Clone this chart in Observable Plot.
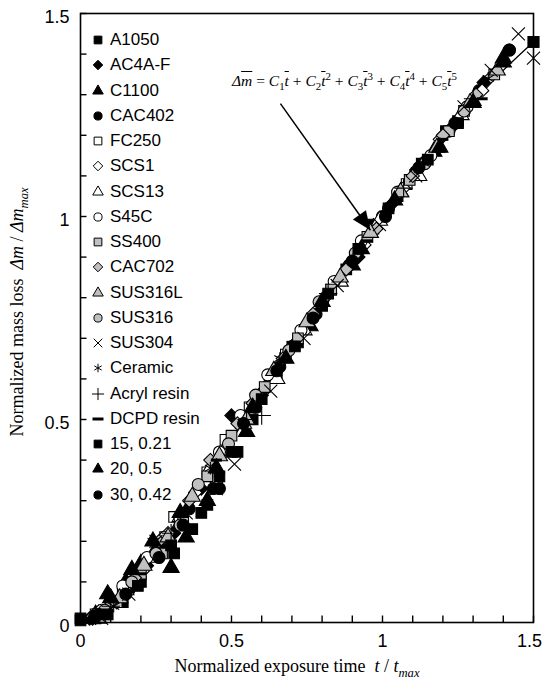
<!DOCTYPE html>
<html><head><meta charset="utf-8">
<script src="https://cdn.jsdelivr.net/npm/d3@7"></script>
<script src="https://cdn.jsdelivr.net/npm/@observablehq/plot@0.6"></script>
<style>
body{margin:0;background:#fff;}
#wrap{position:relative;width:542px;height:683px;overflow:hidden;}
.ov{position:absolute;white-space:nowrap;}
.leg{position:absolute;left:90px;top:0;width:150px;font-family:"Liberation Sans",Arial,sans-serif;font-size:17px;color:#000;}
.row{position:absolute;left:0;height:20px;display:flex;align-items:center;white-space:nowrap;}
.row svg{width:16px;height:16px;margin-right:4px;flex:none;}
.serif{font-family:"Liberation Serif","Times New Roman",serif;color:#000;}
sub,sup{font-size:70%;line-height:0;}
</style></head><body><div id="wrap"></div>
<script>
// ---- data ----
const seriesNames = ["A1050","AC4A-F","C1100","CAC402","FC250","SCS1","SCS13","S45C","SS400","CAC702","SUS316L","SUS316","SUS304","Ceramic","Acryl resin","DCPD resin","15, 0.21","20, 0.5","30, 0.42"];
const seriesSymbols = ["square","diamond","triangle","circle","square","diamond","triangle","circle","square","diamond","triangle","circle","times","asterisk","plus","dash","square","triangle","circle"];
const seriesFills = ["black","black","black","black","white","white","white","white","#c0c0c0","#c0c0c0","#c0c0c0","#c0c0c0","none","none","none","black","black","black","black"];

const A1050   = [[0,0.005],[0.08,0.02],[0.14,0.05],[0.2,0.1],[0.31,0.17],[0.37,0.23],[0.42,0.29],[0.46,0.36],[0.52,0.42],[0.57,0.5],[0.65,0.61],[0.72,0.69],[0.8,0.78],[0.88,0.87],[0.97,0.98],[1.05,1.05],[1.13,1.13],[1.21,1.21],[1.25,1.235],[1.5,1.43]];
const AC4AF   = [[0.03,0.01],[0.12,0.05],[0.22,0.14],[0.31,0.22],[0.4,0.33],[0.5,0.51],[0.6,0.56],[0.7,0.68],[0.8,0.79],[0.92,0.9],[1.03,1.03],[1.13,1.13],[1.23,1.22],[1.335,1.33]];
const C1100   = [[0.05,0.02],[0.09,0.07],[0.15,0.1],[0.2,0.145],[0.25,0.18],[0.3,0.135],[0.35,0.21],[0.42,0.3],[0.55,0.47],[0.63,0.6],[0.76,0.73],[0.9,0.88],[1.06,1.06],[1.17,1.16],[1.3,1.285],[1.4,1.39]];
const CAC402  = [[0.06,0.015],[0.16,0.08],[0.27,0.18],[0.36,0.28],[0.46,0.33],[0.58,0.53],[0.66,0.63],[0.78,0.76],[0.89,0.88],[1.0,1.0],[1.11,1.11],[1.22,1.21],[1.32,1.31],[1.42,1.41]];
const FC250   = [[0.05,0.02],[0.14,0.07],[0.28,0.21],[0.31,0.26],[0.42,0.37],[0.48,0.45],[0.56,0.53],[0.68,0.66],[0.83,0.82],[0.97,0.97],[1.08,1.08],[1.27,1.26]];
const SCS1    = [[0.04,0.01],[0.13,0.06],[0.21,0.13],[0.29,0.22],[0.38,0.32],[0.47,0.42],[0.59,0.56],[0.7,0.68],[0.81,0.8],[0.94,0.93],[1.07,1.07],[1.19,1.19],[1.33,1.31]];
const SCS13   = [[0.06,0.02],[0.15,0.08],[0.24,0.16],[0.33,0.26],[0.43,0.38],[0.54,0.49],[0.65,0.6],[0.74,0.72],[0.86,0.84],[0.99,0.99],[1.12,1.1],[1.26,1.25]];
const S45C    = [[0.07,0.03],[0.14,0.09],[0.22,0.16],[0.28,0.21],[0.33,0.255],[0.46,0.42],[0.53,0.51],[0.62,0.61],[0.73,0.72],[0.84,0.84],[0.93,0.94],[1.05,1.06],[1.16,1.15],[1.28,1.27]];
const SS400   = [[0.05,0.01],[0.12,0.05],[0.2,0.12],[0.27,0.17],[0.34,0.25],[0.42,0.36],[0.5,0.46],[0.61,0.58],[0.72,0.7],[0.83,0.82],[0.95,0.95],[1.09,1.09],[1.22,1.21],[1.37,1.35]];
const CAC702  = [[0.04,0.015],[0.1,0.05],[0.18,0.11],[0.26,0.2],[0.36,0.3],[0.43,0.4],[0.52,0.49],[0.57,0.54],[0.67,0.65],[0.77,0.76],[0.88,0.87],[0.98,0.97],[1.1,1.1],[1.2,1.2],[1.31,1.3]];
const SUS316L = [[0.06,0.01],[0.13,0.06],[0.21,0.14],[0.29,0.21],[0.37,0.31],[0.46,0.41],[0.55,0.5],[0.64,0.62],[0.75,0.74],[0.86,0.85],[0.96,0.96],[1.06,1.06],[1.18,1.17],[1.29,1.28],[1.38,1.36]];
const SUS316  = [[0.08,0.03],[0.17,0.1],[0.25,0.17],[0.33,0.24],[0.39,0.34],[0.49,0.44],[0.58,0.56],[0.69,0.67],[0.79,0.79],[0.91,0.91],[1.02,1.02],[1.14,1.13],[1.27,1.26]];
const SUS304  = [[0.07,0.01],[0.16,0.07],[0.25,0.2],[0.35,0.27],[0.45,0.33],[0.51,0.39],[0.63,0.57],[0.74,0.7],[0.85,0.83],[0.99,0.98],[1.11,1.1],[1.27,1.27],[1.36,1.36],[1.45,1.45],[1.5,1.39]];
const Ceramic = [[0.05,0.015],[0.11,0.04],[0.24,0.2],[0.43,0.38],[0.66,0.65],[0.9,0.89],[1.14,1.13],[1.35,1.34]];
const Acryl   = [[0.1,0.04],[0.3,0.22],[0.55,0.5],[0.6,0.51],[0.82,0.81],[1.07,1.07],[1.3,1.29]];
const DCPD    = [[0.2,0.12],[0.45,0.4],[0.7,0.69],[0.95,0.94],[1.2,1.19],[1.33,1.29]];
const S15     = [[0,0.01],[0.09,0.02],[0.19,0.09],[0.3,0.19],[0.4,0.27],[0.5,0.42],[0.6,0.55],[0.71,0.68],[0.82,0.81],[0.92,0.92],[1.02,1.02],[1.15,1.14],[1.25,1.23],[1.5,1.43]];
const S20     = [[0.04,0.01],[0.1,0.06],[0.17,0.13],[0.24,0.2],[0.33,0.27],[0.45,0.38],[0.57,0.53],[0.68,0.65],[0.8,0.79],[0.93,0.92],[1.04,1.04],[1.19,1.17],[1.3,1.28],[1.4,1.38]];
const S30     = [[0.06,0.02],[0.15,0.07],[0.26,0.16],[0.34,0.24],[0.44,0.33],[0.54,0.49],[0.65,0.62],[0.77,0.75],[0.9,0.89],[1.01,1.0],[1.12,1.12],[1.24,1.23],[1.42,1.41]];
const seriesData = [A1050,AC4AF,C1100,CAC402,FC250,SCS1,SCS13,S45C,SS400,CAC702,SUS316L,SUS316,SUS304,Ceramic,Acryl,DCPD,S15,S20,S30];

const curveT = [0,0.05,0.1,0.15,0.2,0.25,0.3,0.4,0.5,0.6,0.7,0.8,0.9,1.0,1.1,1.2,1.3,1.4,1.5];
const curveM = [0,0.01,0.035,0.07,0.12,0.175,0.23,0.34,0.45,0.56,0.67,0.78,0.89,0.995,1.095,1.19,1.28,1.36,1.43];

const majorTicksLeft = [0,0.5,1];
const majorTicksEnd = [1.5];
const majorTicks = [0,0.5,1,1.5];
const minorTicks = [0,0.1,0.2,0.3,0.4,0.5,0.6,0.7,0.8,0.9,1,1.1,1.2,1.3,1.4,1.5];
const arrowFrom = [0.662,1.278];
const arrowTo = [0.96,0.966];

// ---- symbols (passed as constants, no symbol scale) ----
const dashSym = {draw(ctx,size){ctx.moveTo(-5.5,-1.5); ctx.lineTo(5.5,-1.5); ctx.lineTo(5.5,1.5); ctx.lineTo(-5.5,1.5); ctx.closePath();}};
const headSym = {draw(ctx,size){ctx.moveTo(0,0); ctx.lineTo(-19,-8); ctx.lineTo(-19,8); ctx.closePath();}};
const symMap = {square:"square",diamond:"diamond2",triangle:"triangle",circle:"circle",times:"times",asterisk:"asterisk",plus:"plus",dash:dashSym};
const d3Sym = {square:d3.symbolSquare,diamond:d3.symbolDiamond2,triangle:d3.symbolTriangle,circle:d3.symbolCircle,times:d3.symbolTimes,asterisk:d3.symbolAsterisk,plus:d3.symbolPlus,dash:dashSym};

const W=542,H=683,mL=80,mR=9,mT=13,mB=61;
const kx=(W-mL-mR)/1.5, ky=(H-mT-mB)/1.5;
const tickLen=6.5;
const ang = Math.atan2((arrowFrom[1]-arrowTo[1])*ky,(arrowTo[0]-arrowFrom[0])*kx)*180/Math.PI;

const marks = [];
marks.push(Plot.line(curveT.map((t,i)=>({t,m:curveM[i]})),{x:"t",y:"m",stroke:"black",strokeWidth:1.3,curve:"catmull-rom"}));
seriesData.forEach((data,i)=>{
  const s=seriesSymbols[i], f=seriesFills[i];
  const open = f==="none";
  const dash = s==="dash";
  marks.push(Plot.dot(data,{x:d=>d[0],y:d=>d[1],symbol:symMap[s],r:6,
    fill:open?"none":f,stroke:dash?"none":"black",strokeWidth:1.1,
  }));
});
marks.push(Plot.link([0],{x1:()=>arrowFrom[0],y1:()=>arrowFrom[1],x2:()=>arrowTo[0],y2:()=>arrowTo[1],stroke:"black",strokeWidth:1.5}));
marks.push(Plot.dot([0],{x:()=>arrowTo[0],y:()=>arrowTo[1],symbol:headSym,r:5,fill:"black",stroke:"none",rotate:ang}));
// inward ticks along the bottom and left axes
marks.push(Plot.ruleX(minorTicks,{x:d=>d,y1:0,y2:tickLen/ky,stroke:"black",strokeWidth:1.4}));
marks.push(Plot.ruleY(minorTicks,{y:d=>d,x1:0,x2:tickLen/kx,stroke:"black",strokeWidth:1.4}));
marks.push(Plot.axisX({ticks:majorTicksLeft,tickSize:0,tickPadding:12,tickFormat:d3.format("~g"),label:null,fontSize:18}));
marks.push(Plot.axisX({ticks:majorTicksEnd,tickSize:0,tickPadding:12,dx:-4,tickFormat:d3.format("~g"),label:null,fontSize:18}));
marks.push(Plot.axisY({ticks:majorTicks,tickSize:0,tickPadding:11,dy:4,tickFormat:d3.format("~g"),label:null,fontSize:18}));
marks.push(Plot.frame({stroke:"black",strokeWidth:1.6}));

const chart = Plot.plot({
  width:W,height:H,marginLeft:mL,marginRight:mR,marginTop:mT,marginBottom:mB,
  x:{domain:[0,1.5]},y:{domain:[0,1.5]},
  style:{fontFamily:"'Liberation Sans',Arial,sans-serif",fontSize:"18px",color:"black",background:"white"},
  marks
});
const wrap=document.getElementById("wrap");
wrap.appendChild(chart);

// legend
const leg=document.createElement("div"); leg.className="leg"; wrap.appendChild(leg);
seriesNames.forEach((name,i)=>{
  const row=document.createElement("div"); row.className="row";
  row.style.top=(40+25.25*i-10)+"px";
  const s=seriesSymbols[i], f=seriesFills[i];
  const size = s==="square"?60:s==="circle"?52:s==="triangle"?48:s==="diamond"?58:50;
  const path = d3.symbol().type(d3Sym[s]).size(size)();
  const open=f==="none";
  row.innerHTML=`<svg viewBox="-8 -8 16 16"><path d="${path}" fill="${open?"none":f}" stroke="${s==="dash"?"none":"black"}" stroke-width="1"/></svg><span>${name}</span>`;
  leg.appendChild(row);
});

// equation
const eq=document.createElement("div"); eq.className="ov serif";
eq.style.left="232px"; eq.style.top="72px"; eq.style.fontSize="15.5px";
const tb='<i style="text-decoration:overline">t</i>';
eq.innerHTML=`<i>Δ</i><i style="text-decoration:overline">m</i> = <i>C</i><sub>1</sub>${tb} + <i>C</i><sub>2</sub>${tb}<sup>2</sup> + <i>C</i><sub>3</sub>${tb}<sup>3</sup> + <i>C</i><sub>4</sub>${tb}<sup>4</sup> + <i>C</i><sub>5</sub>${tb}<sup>5</sup>`;
wrap.appendChild(eq);

// axis titles
const xt=document.createElement("div"); xt.className="ov serif";
xt.style.cssText+="font-size:18px;width:400px;text-align:center;left:97px;top:655px;height:22px;line-height:22px;";
xt.innerHTML=`Normalized exposure time&nbsp; <i>t</i> / <i>t</i><sub><i>max</i></sub>`;
wrap.appendChild(xt);
const yt=document.createElement("div"); yt.className="ov serif";
yt.style.cssText+="font-size:18px;width:400px;text-align:center;left:-183px;top:301px;height:22px;line-height:22px;transform:rotate(-90deg);";
yt.innerHTML=`Normalized mass loss&nbsp; <i>Δm</i> / <i>Δm</i><sub><i>max</i></sub>`;
wrap.appendChild(yt);
</script></body></html>
